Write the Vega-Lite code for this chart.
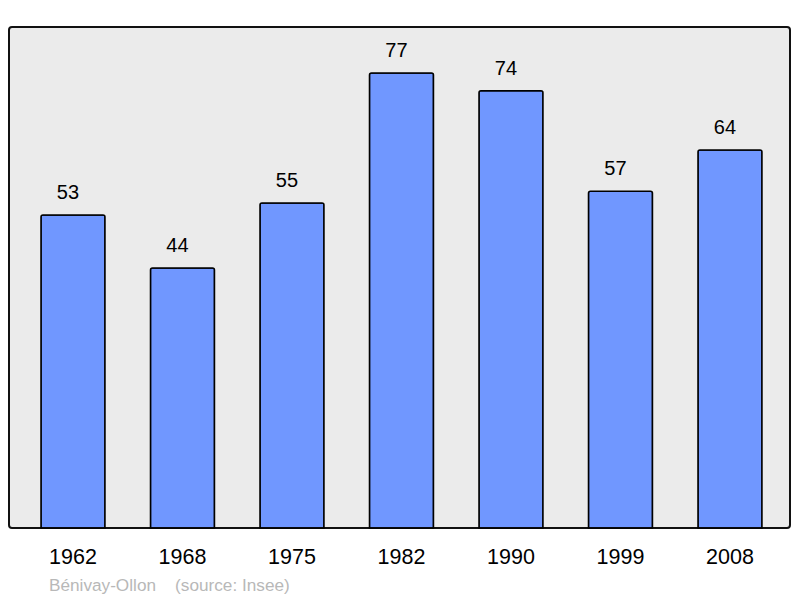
{
  "$schema": "https://vega.github.io/schema/vega-lite/v6.json",
  "width": 781,
  "height": 501,
  "autosize": {"type": "none"},
  "padding": {"left": 9, "top": 27, "right": 10, "bottom": 70},
  "background": "white",
  "config": {
    "font": "Liberation Sans",
    "view": {"fill": "#ebebeb", "stroke": "#111111", "strokeWidth": 2, "cornerRadius": 3}
  },
  "title": {
    "text": "Bénivay-Ollon\u00a0\u00a0\u00a0 (source: Insee)",
    "orient": "bottom",
    "anchor": "start",
    "dx": 40,
    "offset": 9,
    "fontSize": 17.2,
    "fontWeight": "normal",
    "color": "#b8b8b8",
    "font": "Liberation Sans"
  },
  "data": {
    "values": [
      {"year": "1962", "pop": 53},
      {"year": "1968", "pop": 44},
      {"year": "1975", "pop": 55},
      {"year": "1982", "pop": 77},
      {"year": "1990", "pop": 74},
      {"year": "1999", "pop": 57},
      {"year": "2008", "pop": 64}
    ]
  },
  "encoding": {
    "x": {
      "field": "year",
      "type": "ordinal",
      "sort": null,
      "scale": {"paddingInner": 0.4155, "paddingOuter": 0.274, "align": 0.533},
      "axis": {
        "title": null,
        "domain": false,
        "ticks": false,
        "tickSize": 0,
        "labelAngle": 0,
        "labelFontSize": 21.5,
        "labelColor": "#000000",
        "labelPadding": 18,
        "labelFont": "Liberation Sans"
      }
    },
    "y": {
      "field": "pop",
      "type": "quantitative",
      "scale": {"domain": [0, 84.8], "nice": false, "zero": true},
      "axis": null
    }
  },
  "layer": [
    {
      "mark": {"type": "bar", "fill": "#7097ff", "stroke": "#000000", "strokeWidth": 1.5, "cornerRadiusTopLeft": 2, "cornerRadiusTopRight": 2}
    },
    {
      "mark": {"type": "text", "baseline": "bottom", "dy": -12, "dx": -5, "fontSize": 20, "color": "#000000", "font": "Liberation Sans"},
      "encoding": {"text": {"field": "pop", "type": "quantitative"}}
    }
  ]
}
